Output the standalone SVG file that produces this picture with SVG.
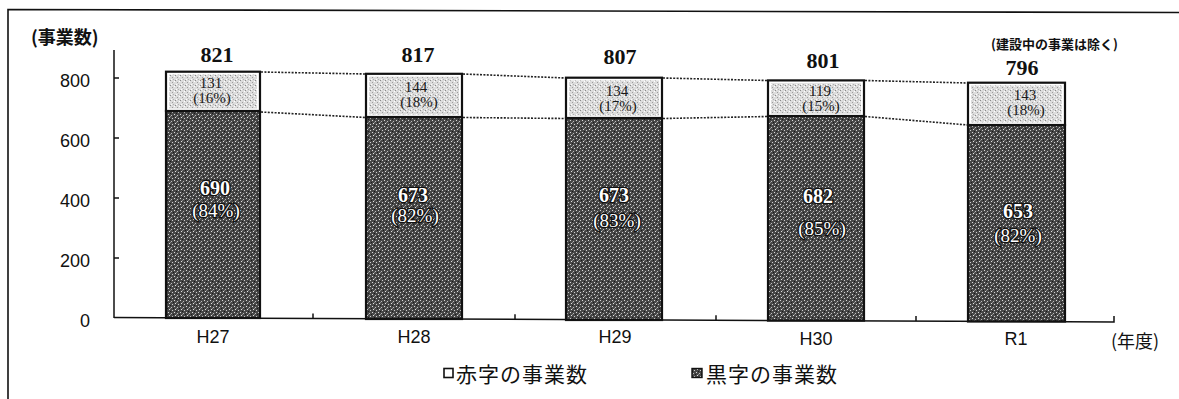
<svg xmlns="http://www.w3.org/2000/svg" width="1179" height="399" viewBox="0 0 1179 399">
<defs>
<pattern id="dk" width="6" height="6" patternUnits="userSpaceOnUse">
<rect width="6" height="6" fill="#474747"/>
<rect x="0" y="0" width="1" height="1" fill="#d8d8d8"/>
<rect x="3" y="1" width="1" height="1" fill="#bdbdbd"/>
<rect x="1" y="3" width="1" height="1" fill="#e0e0e0"/>
<rect x="4" y="4" width="1" height="1" fill="#cfcfcf"/>
<rect x="5" y="2" width="1" height="1" fill="#1a1a1a"/>
<rect x="2" y="5" width="1" height="1" fill="#1a1a1a"/>
<rect x="2" y="2" width="1" height="1" fill="#8a8a8a"/>
</pattern>
<pattern id="lt" width="5" height="5" patternUnits="userSpaceOnUse">
<rect width="5" height="5" fill="#dcdcdc"/>
<rect x="0" y="0" width="1" height="1" fill="#8a8a8a"/>
<rect x="2" y="2" width="1" height="1" fill="#9c9c9c"/>
<rect x="4" y="1" width="1" height="1" fill="#ffffff"/>
<rect x="1" y="4" width="1" height="1" fill="#ffffff"/>
<rect x="3" y="4" width="1" height="1" fill="#b0b0b0"/>
</pattern>
<style>
.ax{stroke:#111;stroke-width:1.5;fill:none}
.dot{stroke:#222;stroke-width:1.6;stroke-dasharray:2 1.4;fill:none}
.dkr{fill:url(#dk);stroke:#111;stroke-width:2.2}
.ltw{fill:#fff;stroke:#111;stroke-width:2.2}
.lti{fill:url(#lt)}
.tot{font-family:"Liberation Serif",serif;font-weight:700;font-size:22px;fill:#111;text-anchor:middle}
.lv{font-family:"Liberation Serif",serif;font-size:15px;fill:#1a1a1a;text-anchor:middle}
.dv{font-family:"Liberation Serif",serif;font-weight:700;font-size:20px;fill:#fff;stroke:#111;stroke-width:2.5;paint-order:stroke;text-anchor:middle}
.dp{font-family:"Liberation Serif",serif;font-size:19px;fill:#fff;stroke:#111;stroke-width:2.5;paint-order:stroke;text-anchor:middle}
.yl{font-family:"Liberation Sans",sans-serif;font-size:18px;fill:#111;text-anchor:end}
.xl{font-family:"Liberation Sans",sans-serif;font-size:18px;fill:#111;text-anchor:middle}
.jp{font-family:"Noto Sans CJK JP",sans-serif;fill:#111}
</style>
</defs>
<rect width="1179" height="399" fill="#fff"/>
<g id="frame">
<polyline points="8,399 8,9.5 1179,12.5" fill="none" stroke="#111" stroke-width="1.6"/>
</g>
<g id="axes">
<line class="ax" x1="114" y1="50" x2="114" y2="318"/>
<line class="ax" x1="114" y1="78" x2="119" y2="78"/>
<line class="ax" x1="114" y1="138" x2="119" y2="138"/>
<line class="ax" x1="114" y1="198" x2="119" y2="198"/>
<line class="ax" x1="114" y1="258" x2="119" y2="258"/>
<polyline class="ax" points="114,317.6 1114,322 1114,316"/>
<line class="ax" x1="313" y1="318.4" x2="313" y2="313.4"/>
<line class="ax" x1="515" y1="319.3" x2="515" y2="314.3"/>
<line class="ax" x1="716" y1="320.2" x2="716" y2="315.2"/>
<line class="ax" x1="916" y1="321.1" x2="916" y2="316.1"/>
<text class="yl" x="90" y="87">800</text>
<text class="yl" x="90" y="147">600</text>
<text class="yl" x="90" y="207">400</text>
<text class="yl" x="90" y="267">200</text>
<text class="yl" x="90" y="327">0</text>
<text class="jp" x="31" y="44" font-size="18" font-weight="700">(事業数)</text>
<text class="xl" x="213" y="343">H27</text>
<text class="xl" x="414" y="343">H28</text>
<text class="xl" x="615" y="343">H29</text>
<text class="xl" x="816" y="345">H30</text>
<text class="xl" x="1016" y="345">R1</text>
<text class="jp" x="1111" y="348" font-size="18">(年度)</text>
<text class="jp" x="991" y="49" font-size="13" font-weight="700">(建設中の事業は除く)</text>
</g>
<g id="connectors">
<line class="dot" x1="261" y1="72" x2="366" y2="74"/>
<line class="dot" x1="463" y1="74" x2="566" y2="78"/>
<line class="dot" x1="663" y1="78" x2="768" y2="80.5"/>
<line class="dot" x1="865" y1="80.5" x2="968" y2="83"/>
<line class="dot" x1="261" y1="112" x2="366" y2="117.5"/>
<line class="dot" x1="463" y1="117.5" x2="566" y2="118.5"/>
<line class="dot" x1="663" y1="118.5" x2="768" y2="116.5"/>
<line class="dot" x1="865" y1="116.5" x2="968" y2="125"/>
</g>
<g id="bar-H27">
<rect class="dkr" x="166" y="111" width="94" height="207"/>
<rect class="ltw" x="166" y="71.7" width="94" height="39.3"/>
<rect class="lti" x="169" y="74.5" width="88" height="34"/>
<text class="tot" x="217" y="62">821</text>
<text class="lv" x="211" y="88">131</text>
<text class="lv" x="212" y="103">(16%)</text>
<text class="dv" x="215" y="195">690</text>
<text class="dp" x="216" y="217">(84%)</text>
</g>
<g id="bar-H28">
<rect class="dkr" x="366" y="117" width="96" height="202"/>
<rect class="ltw" x="366" y="73.8" width="96" height="43.2"/>
<rect class="lti" x="369" y="76.6" width="90" height="38"/>
<text class="tot" x="418" y="62">817</text>
<text class="lv" x="416" y="92">144</text>
<text class="lv" x="419" y="107">(18%)</text>
<text class="dv" x="413" y="202">673</text>
<text class="dp" x="415" y="222">(82%)</text>
</g>
<g id="bar-H29">
<rect class="dkr" x="566" y="118" width="96" height="202"/>
<rect class="ltw" x="566" y="77.7" width="96" height="40.3"/>
<rect class="lti" x="569" y="80.5" width="90" height="35"/>
<text class="tot" x="620" y="64">807</text>
<text class="lv" x="617" y="96">134</text>
<text class="lv" x="618" y="111">(17%)</text>
<text class="dv" x="614" y="202">673</text>
<text class="dp" x="617" y="227">(83%)</text>
</g>
<g id="bar-H30">
<rect class="dkr" x="768" y="116" width="96" height="204.6"/>
<rect class="ltw" x="768" y="80.4" width="96" height="35.6"/>
<rect class="lti" x="771" y="83.2" width="90" height="30.5"/>
<text class="tot" x="823" y="68">801</text>
<text class="lv" x="820" y="96">119</text>
<text class="lv" x="821" y="111">(15%)</text>
<text class="dv" x="818" y="203">682</text>
<text class="dp" x="822" y="235">(85%)</text>
</g>
<g id="bar-R1">
<rect class="dkr" x="968" y="125" width="97" height="196.5"/>
<rect class="ltw" x="968" y="82.7" width="97" height="42.3"/>
<rect class="lti" x="971" y="85.5" width="91" height="37"/>
<text class="tot" x="1022" y="75">796</text>
<text class="lv" x="1025" y="100">143</text>
<text class="lv" x="1026" y="115">(18%)</text>
<text class="dv" x="1018" y="218">653</text>
<text class="dp" x="1018" y="242">(82%)</text>
</g>
<g id="legend">
<rect x="444" y="368.5" width="9" height="9" fill="#fff" stroke="#111" stroke-width="1.6"/>
<text class="jp" x="456" y="382" font-size="21" letter-spacing="1">赤字の事業数</text>
<rect x="692" y="368.5" width="10" height="9" fill="url(#dk)" stroke="#111" stroke-width="1.4"/>
<text class="jp" x="706" y="382" font-size="21" letter-spacing="1">黒字の事業数</text>
</g>
</svg>
